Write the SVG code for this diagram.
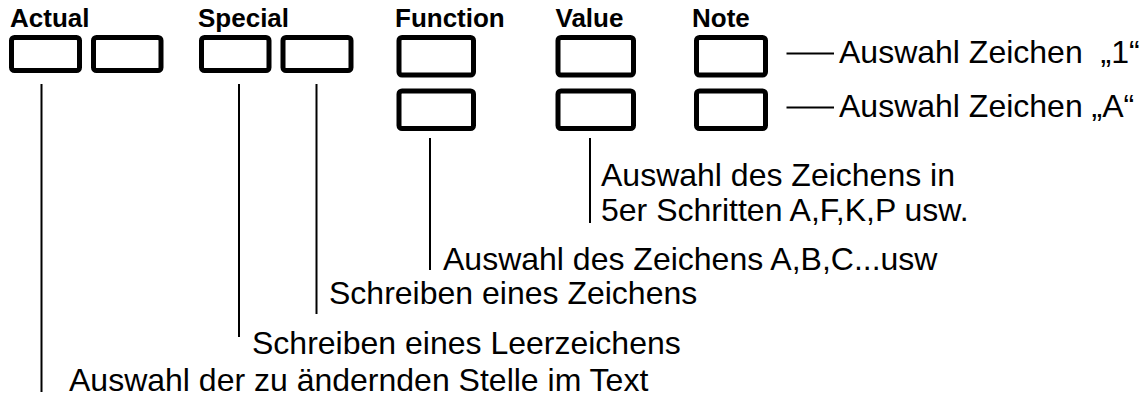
<svg xmlns="http://www.w3.org/2000/svg" width="1148" height="407" viewBox="0 0 1148 407">
<style>
.box{fill:#fff;stroke:#000;stroke-width:5;}
.hd{font-family:"Liberation Sans",Arial,sans-serif;font-weight:bold;font-size:26px;fill:#000;}
.lb{font-family:"Liberation Sans",Arial,sans-serif;font-size:32px;fill:#000;}
.ln{stroke:#000;stroke-width:2;fill:none;}
</style>
<rect width="1148" height="407" fill="#fff"/>
<g id="actual">
<text class="hd" x="10" y="27">Actual</text>
<rect class="box" x="11.5" y="37.5" width="68" height="33" rx="3"/>
<rect class="box" x="93.5" y="37.5" width="67.5" height="33" rx="3"/>
</g>
<g id="special">
<text class="hd" x="198" y="27">Special</text>
<rect class="box" x="201.5" y="37.5" width="67.5" height="33" rx="3"/>
<rect class="box" x="283" y="37.5" width="68" height="33" rx="3"/>
</g>
<g id="function">
<text class="hd" x="395" y="27">Function</text>
<rect class="box" x="399" y="37.5" width="74.5" height="37.5" rx="3"/>
<rect class="box" x="399" y="91" width="74.5" height="37.5" rx="3"/>
</g>
<g id="value">
<text class="hd" x="555.5" y="27">Value</text>
<rect class="box" x="558" y="37.5" width="75.5" height="37.5" rx="3"/>
<rect class="box" x="558" y="91" width="75.5" height="37.5" rx="3"/>
</g>
<g id="note">
<text class="hd" x="692" y="27">Note</text>
<rect class="box" x="696.5" y="37.5" width="69" height="37.5" rx="3"/>
<rect class="box" x="696.5" y="91" width="69" height="37.5" rx="3"/>
</g>
<g id="connectors">
<line class="ln" x1="786.5" y1="53.5" x2="834" y2="53.5"/>
<line class="ln" x1="786.5" y1="107.5" x2="834" y2="107.5"/>
<line class="ln" x1="590" y1="138" x2="590" y2="223"/>
<line class="ln" x1="430" y1="138" x2="430" y2="270"/>
<line class="ln" x1="316.5" y1="84" x2="316.5" y2="314"/>
<line class="ln" x1="239" y1="84" x2="239" y2="337"/>
<line class="ln" x1="41.5" y1="84" x2="41.5" y2="392"/>
</g>
<g id="labels">
<text class="lb" x="839" y="63" xml:space="preserve">Auswahl Zeichen  „1“</text>
<text class="lb" x="839" y="117">Auswahl Zeichen „A“</text>
<text class="lb" x="601" y="186">Auswahl des Zeichens in</text>
<text class="lb" x="601" y="221">5er Schritten A,F,K,P usw.</text>
<text class="lb" x="443" y="270">Auswahl des Zeichens A,B,C...usw</text>
<text class="lb" x="329" y="304">Schreiben eines Zeichens</text>
<text class="lb" x="252" y="354">Schreiben eines Leerzeichens</text>
<text class="lb" x="69" y="391">Auswahl der zu ändernden Stelle im Text</text>
</g>
</svg>
